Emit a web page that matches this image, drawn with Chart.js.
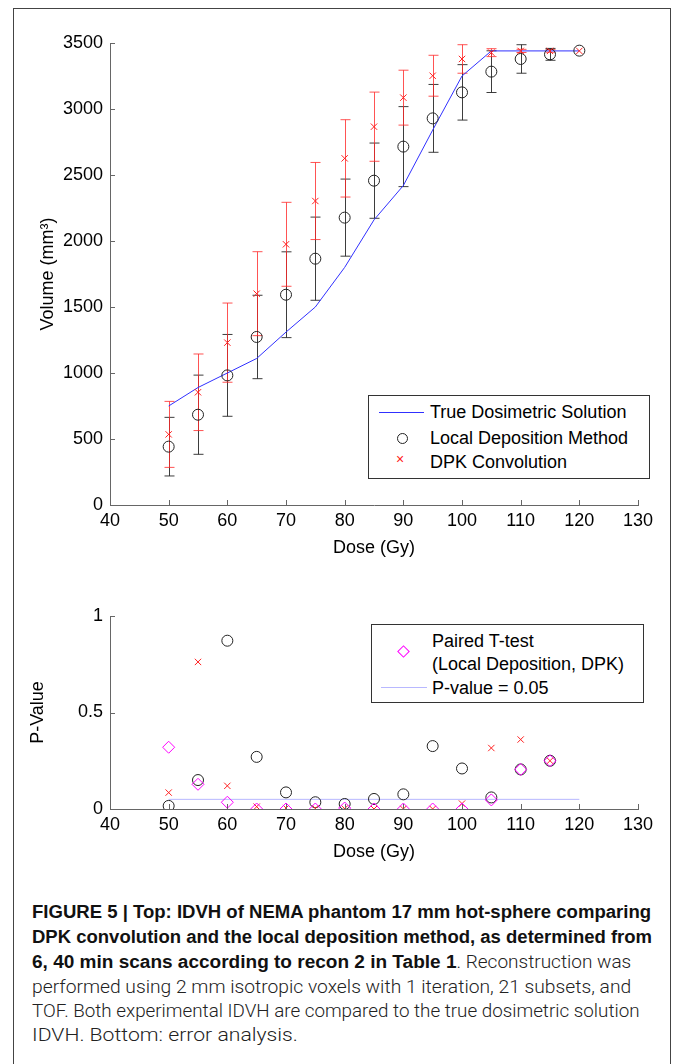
<!DOCTYPE html>
<html>
<head>
<meta charset="utf-8">
<script src="https://cdn.jsdelivr.net/npm/chart.js@4/dist/chart.umd.min.js"></script>
<style>
  body { margin: 0; background: #fff; width: 674px; height: 1064px; overflow: hidden; position: relative; font-family: "Liberation Sans", Arial, sans-serif; }
  #frame { position: absolute; left: 13px; top: 8px; width: 656px; height: 1100px; border: 1px solid #444; }
  canvas { position: absolute; left: 0; }
  #c_top { top: 0; }
  #c_bot { top: 560px; }
  .leyenda { position: absolute; border: 1px solid #333; background: #fff; font-size: 18px; color: #000; }
  .fila { position: absolute; left: 0; white-space: nowrap; line-height: 20px; }
  .caption { position: absolute; left: 32px; font-size: 18px; white-space: nowrap; transform-origin: 0 50%; line-height: 22px; }
  .caption b { font-family: "Liberation Sans Narrow", "Liberation Sans", Arial, sans-serif; font-weight: bold; color: #111; }
  .caption span { font-family: Roboto, "Liberation Sans", sans-serif; font-weight: 300; color: #222; }
</style>
</head>
<body>
<div id="frame"></div>
<canvas id="c_top" width="674" height="560"></canvas>
<canvas id="c_bot" width="674" height="310"></canvas>

<div class="leyenda" style="left:368px; top:395px; width:280px; height:82px;">
  <div style="position:absolute; left:10px; top:16px; width:45px; border-top:1px solid #3030ff;"></div>
  <div style="position:absolute; left:28px; top:37px; width:9px; height:9px; border:1px solid #222; border-radius:50%;"></div>
  <div style="position:absolute; left:27px; top:56px; color:#ff2020; font-size:14px; line-height:14px;">×</div>
  <div class="fila" style="left:61px; top:6px;">True Dosimetric Solution</div>
  <div class="fila" style="left:61px; top:32px;">Local Deposition Method</div>
  <div class="fila" style="left:61px; top:56px;">DPK Convolution</div>
</div>

<div class="leyenda" style="left:371px; top:624px; width:271px; height:77px;">
  <div style="position:absolute; left:27px; top:22px; width:7px; height:7px; border:1px solid #ff00ff; transform:rotate(45deg);"></div>
  <div style="position:absolute; left:9px; top:62px; width:46px; border-top:1px solid #b8b8ff;"></div>
  <div class="fila" style="left:60px; top:6px;">Paired T-test</div>
  <div class="fila" style="left:60px; top:29px;">(Local Deposition, DPK)</div>
  <div class="fila" style="left:60px; top:53px;">P-value = 0.05</div>
</div>

<div class="caption" data-w="619" style="top:901px;"><b>FIGURE 5 | Top: IDVH of NEMA phantom 17 mm hot-sphere comparing</b></div>
<div class="caption" data-w="620" style="top:926px;"><b>DPK convolution and the local deposition method, as determined from</b></div>
<div class="caption" data-w="599" style="top:951px;"><b>6, 40 min scans according to recon 2 in Table 1</b><span>. Reconstruction was</span></div>
<div class="caption" data-w="599" style="top:976px;"><span>performed using 2 mm isotropic voxels with 1 iteration, 21 subsets, and</span></div>
<div class="caption" data-w="608" style="top:1000px;"><span>TOF. Both experimental IDVH are compared to the true dosimetric solution</span></div>
<div class="caption" data-w="266" style="top:1024px;"><span>IDVH. Bottom: error analysis.</span></div>

<script>
// Datos
const dosis = [50, 55, 60, 65, 70, 75, 80, 85, 90, 95, 100, 105, 110, 115, 120];
const volVerdadero = [750, 890, 1000, 1110, 1310, 1500, 1800, 2160, 2420, 2840, 3250, 3440, 3440, 3440, 3440];
const volLocal = [442, 684, 982, 1273, 1593, 1866, 2177, 2457, 2715, 2929, 3126, 3283, 3379, 3414, 3442];
const errLocal = [222, 300, 310, 316, 325, 315, 292, 285, 303, 257, 210, 158, 108, 45, 0];
const volDPK = [535, 854, 1230, 1601, 1975, 2303, 2626, 2866, 3086, 3252, 3379, 3427, 3440, 3440, 3440];
const errDPK = [250, 290, 300, 318, 318, 292, 293, 262, 208, 155, 108, 30, 12, 10, 0];

const dosisP = [50, 55, 60, 65, 70, 75, 80, 85, 90, 95, 100, 105, 110, 115];
const pLocal = [0.016, 0.15, 0.872, 0.27, 0.086, 0.035, 0.026, 0.052, 0.076, 0.326, 0.21, 0.06, 0.205, 0.25];
const pDPK = [0.085, 0.762, 0.12, 0.012, 0.005, 0.003, 0.002, 0, 0, 0, 0.028, 0.316, 0.36, 0.25];
const pTtest = [0.32, 0.128, 0.035, 0, 0, 0, 0.005, 0, 0, 0, 0, 0.047, 0.205, 0.25];
const umbralP = [[50, 0.05], [120, 0.05]];

const ticksX = [40, 50, 60, 70, 80, 90, 100, 110, 120, 130];

const colorEje = '#666';
const fuente = { family: '"Liberation Sans", Arial, sans-serif', size: 18 };

/** Ticks hacia adentro, estilo MATLAB */
const ticksInternos = {
    id: 'ticksInternos',
    afterDraw(chart) {
        const ctx = chart.ctx, { x, y } = chart.scales, area = chart.chartArea;
        ctx.save(); ctx.strokeStyle = colorEje; ctx.lineWidth = 1;
        x.ticks.forEach(t => { const px = Math.round(x.getPixelForValue(t.value)) + 0.5; ctx.beginPath(); ctx.moveTo(px, area.bottom); ctx.lineTo(px, area.bottom - 5); ctx.stroke(); });
        y.ticks.forEach(t => { const py = Math.round(y.getPixelForValue(t.value)) + 0.5; ctx.beginPath(); ctx.moveTo(area.left, py); ctx.lineTo(area.left + 5, py); ctx.stroke(); });
        ctx.restore();
    }
};

/** Barras de error para las dos series experimentales */
const barrasError = {
    id: 'barrasError',
    beforeDatasetsDraw(chart) {
        const ctx = chart.ctx, { x, y } = chart.scales;
        [[volLocal, errLocal, 'rgba(40,40,40,0.9)'], [volDPK, errDPK, 'rgba(255,40,40,0.8)']].forEach(([vals, errs, col]) => {
            ctx.save(); ctx.strokeStyle = col; ctx.lineWidth = 1;
            vals.forEach((v, i) => {
                if (!errs[i]) return;
                const px = Math.round(x.getPixelForValue(dosis[i])) + 0.5;
                const yt = y.getPixelForValue(v + errs[i]), yb = y.getPixelForValue(v - errs[i]);
                ctx.beginPath();
                ctx.moveTo(px, yt); ctx.lineTo(px, yb);
                ctx.moveTo(px - 5, yt); ctx.lineTo(px + 5, yt);
                ctx.moveTo(px - 5, yb); ctx.lineTo(px + 5, yb);
                ctx.stroke();
            });
            ctx.restore();
        });
    }
};

function ejeX(alturaEje, padTitulo) {
    return {
        type: 'linear', min: 40, max: 130,
        afterBuildTicks: s => { s.ticks = ticksX.map(v => ({ value: v })); },
        afterFit: s => { s.height = alturaEje; },
        ticks: { font: fuente, color: '#000', padding: 5, maxRotation: 0 },
        grid: { display: false, drawTicks: false },
        border: { display: true, color: colorEje },
        title: { display: true, text: 'Dose (Gy)', font: fuente, color: '#000', padding: { top: 0, bottom: padTitulo } }
    };
}

function ejeY(min, max, paso, titulo, padTitulo) {
    return {
        type: 'linear', min, max,
        afterFit: s => { s.width = 110; },
        ticks: { stepSize: paso, font: fuente, color: '#000', padding: 7, callback: v => String(v) },
        grid: { display: false, drawTicks: false },
        border: { display: true, color: colorEje },
        title: { display: true, text: titulo, font: fuente, color: '#000', padding: { top: padTitulo, bottom: 0 } }
    };
}

const opcionesBase = {
    responsive: false, animation: false, devicePixelRatio: 1,
    plugins: { legend: { display: false }, tooltip: { enabled: false } }
};

new Chart(document.getElementById('c_top'), {
    type: 'scatter',
    data: {
        datasets: [
            { label: 'DPK Convolution', data: dosis.map((d, i) => ({ x: d, y: volDPK[i] })), pointStyle: 'crossRot', pointRadius: 4.5, borderColor: '#ff2020', borderWidth: 1, showLine: false, order: 1 },
            { label: 'Local Deposition Method', data: dosis.map((d, i) => ({ x: d, y: volLocal[i] })), pointStyle: 'circle', pointRadius: 5.5, borderColor: '#222', backgroundColor: 'rgba(0,0,0,0)', borderWidth: 1, showLine: false, order: 2 },
            { label: 'True Dosimetric Solution', data: dosis.map((d, i) => ({ x: d, y: volVerdadero[i] })), showLine: true, borderColor: '#3030ff', borderWidth: 1, pointRadius: 0, order: 3 }
        ]
    },
    options: {
        ...opcionesBase,
        layout: { padding: { top: 43, right: 36, left: 0, bottom: 0 } },
        scales: { x: ejeX(55, 1), y: ejeY(0, 3500, 500, 'Volume (mm³)', 37) }
    },
    plugins: [barrasError, ticksInternos]
});

new Chart(document.getElementById('c_bot'), {
    type: 'scatter',
    data: {
        datasets: [
            { label: 'Paired T-test', data: dosisP.map((d, i) => ({ x: d, y: pTtest[i] })), pointStyle: 'rectRot', pointRadius: 6, borderColor: '#ff00ff', backgroundColor: 'rgba(0,0,0,0)', borderWidth: 1, showLine: false, order: 1 },
            { label: 'DPK', data: dosisP.map((d, i) => ({ x: d, y: pDPK[i] })), pointStyle: 'crossRot', pointRadius: 4.5, borderColor: '#ff2020', borderWidth: 1, showLine: false, order: 2 },
            { label: 'Local', data: dosisP.map((d, i) => ({ x: d, y: pLocal[i] })), pointStyle: 'circle', pointRadius: 5.5, borderColor: '#222', backgroundColor: 'rgba(0,0,0,0)', borderWidth: 1, showLine: false, order: 3 },
            { label: 'P-value = 0.05', data: umbralP.map(([x, y]) => ({ x, y })), showLine: true, borderColor: '#b8b8ff', borderWidth: 1, pointRadius: 0, order: 4 }
        ]
    },
    options: {
        ...opcionesBase,
        layout: { padding: { top: 56, right: 36, left: 0, bottom: 0 } },
        scales: { x: ejeX(61, 7), y: ejeY(0, 1, 0.5, 'P-Value', 27) }
    },
    plugins: [ticksInternos]
});

// Ajusta el ancho de cada línea del pie de figura
document.querySelectorAll('.caption').forEach(el => {
    const natural = el.scrollWidth, objetivo = parseFloat(el.dataset.w);
    el.style.transform = `scaleX(${objetivo / natural})`;
});
</script>
</body>
</html>
